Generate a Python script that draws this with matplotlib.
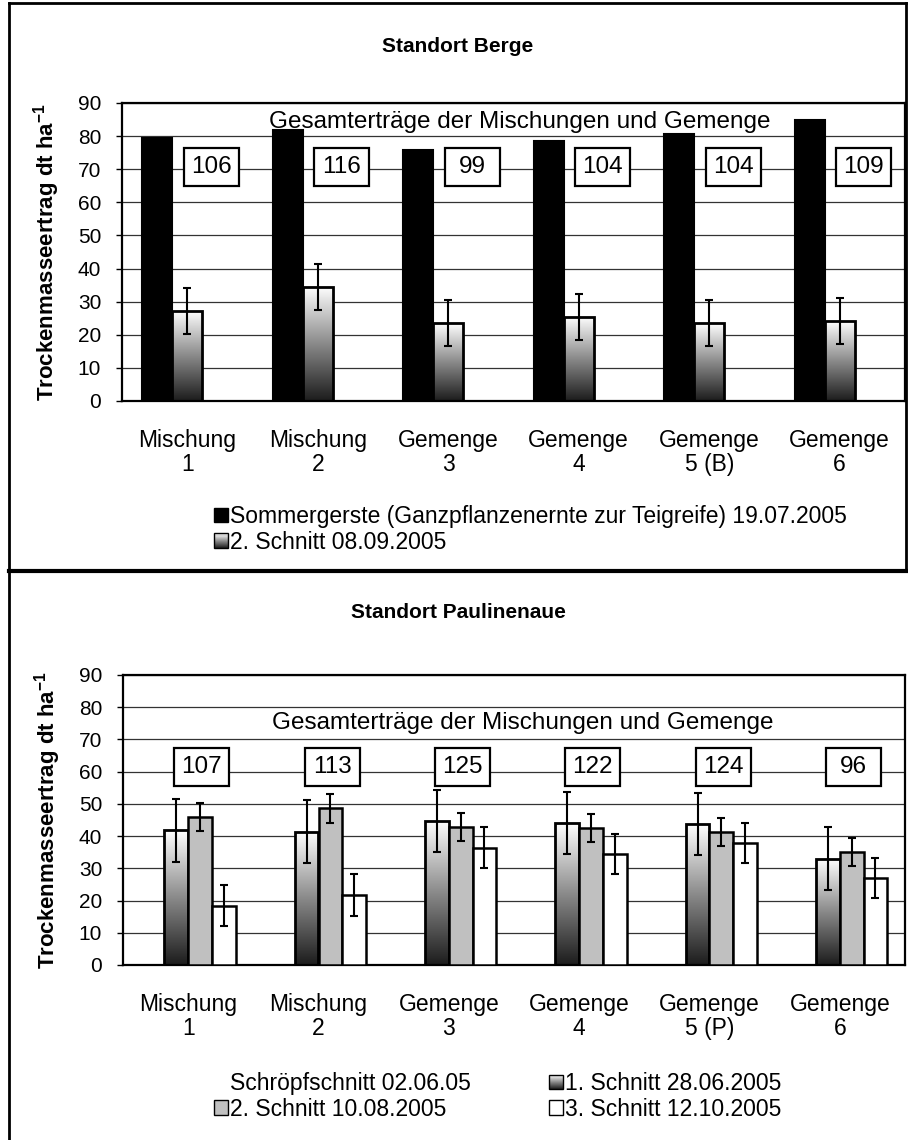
import numpy as np
import matplotlib
matplotlib.use('Agg')
import matplotlib.pyplot as plt
from matplotlib.colors import LinearSegmentedColormap
from matplotlib.patches import Rectangle
from matplotlib.legend_handler import HandlerBase
from matplotlib.lines import Line2D
from matplotlib.transforms import ScaledTranslation

plt.rcParams['font.family'] = ['Liberation Sans', 'DejaVu Sans']
plt.rcParams['font.size'] = 16.5
plt.rcParams['mathtext.fontset'] = 'custom'
plt.rcParams['mathtext.rm'] = 'Liberation Sans'
plt.rcParams['mathtext.bf'] = 'Liberation Sans:bold'

# ---- data: Standort Berge
cats_berge = ['Mischung\n1', 'Mischung\n2', 'Gemenge\n3', 'Gemenge\n4',
              'Gemenge\n5 (B)', 'Gemenge\n6']
gerste = [79.5, 81.9, 75.8, 78.5, 80.6, 85.0]
schnitt2_b = [27.2, 34.5, 23.5, 25.4, 23.5, 24.1]
schnitt2_b_err = [7.0, 7.0, 7.0, 7.0, 7.0, 7.0]
gesamt_b = [106, 116, 99, 104, 104, 109]

# ---- data: Standort Paulinenaue
cats_paul = ['Mischung\n1', 'Mischung\n2', 'Gemenge\n3', 'Gemenge\n4',
             'Gemenge\n5 (P)', 'Gemenge\n6']
schnitt1_p = [41.8, 41.4, 44.8, 44.0, 43.7, 33.0]
schnitt1_p_err = [9.7, 9.7, 9.6, 9.7, 9.7, 9.7]
schnitt2_p = [45.9, 48.7, 42.8, 42.5, 41.3, 35.0]
schnitt2_p_err = [4.4, 4.5, 4.4, 4.4, 4.4, 4.4]
schnitt3_p = [18.4, 21.7, 36.4, 34.5, 38.0, 27.1]
schnitt3_p_err = [6.3, 6.4, 6.3, 6.3, 6.2, 6.2]
gesamt_p = [107, 113, 125, 122, 124, 96]

ylabel = r'Trockenmasseertrag dt ha$^{\mathbf{-1}}$'
gesamt_txt = 'Gesamterträge der Mischungen und Gemenge'

cmap = LinearSegmentedColormap.from_list('grad', ['#1c1c1c', '#8a8a8a', '#ffffff'])
grad = np.linspace(0, 1, 256).reshape(-1, 1)

W, H = 908, 1140
fig = plt.figure(figsize=(W / 100, H / 100), dpi=100)


def grad_bars(ax, x, h, w):
    bars = ax.bar(x, h, w, facecolor='none', edgecolor='black', lw=2, zorder=3)
    for b in bars:
        x0, y0 = b.get_xy()
        im = ax.imshow(grad, extent=[x0, x0 + b.get_width(), y0, y0 + b.get_height()],
                       origin='lower', cmap=cmap, aspect='auto', zorder=2.5)
        im.set_clip_path(b)
    return bars


def setup(ax, cats):
    ax.set_xlim(-0.5, 5.5)
    ax.set_ylim(0, 90)
    ax.set_yticks(np.arange(0, 91, 10))
    ax.set_xticks(range(6))
    ax.set_xticklabels(cats, linespacing=1.05)
    ax.tick_params(axis='x', length=0, pad=20, labelsize=16.5)
    ax.tick_params(axis='y', direction='out', length=4, width=1, pad=11, labelsize=15)
    ax.yaxis.grid(True, color='#333333', lw=0.9)
    ax.set_axisbelow(True)
    for s in ax.spines.values():
        s.set_linewidth(1.6)
    ax.set_ylabel(ylabel, fontweight='bold', fontsize=16)
    ax.yaxis.set_label_coords(-0.077, 0.5)


def boxes(ax, xs, ys, vals):
    # fixed size label boxes (55 x 38 px) centred on the data point
    for x, v in zip(xs, vals):
        tr = fig.dpi_scale_trans + ScaledTranslation(x, ys, ax.transData)
        ax.add_patch(Rectangle((-0.275, -0.19), 0.55, 0.38, transform=tr,
                               fc='white', ec='black', lw=1.6, zorder=5))
        ax.text(x, ys, str(v), ha='center', va='center', zorder=6, fontsize=17.5)


class GradHandler(HandlerBase):
    def create_artists(self, legend, orig_handle, xdescent, ydescent, width, height, fontsize, trans):
        arts = []
        n = 14
        for i in range(n):
            arts.append(Rectangle((-xdescent, -ydescent + height * i / n), width, height / n,
                                  fc=cmap((i + 0.5) / n), ec='none', transform=trans))
        arts.append(Rectangle((-xdescent, -ydescent), width, height, fc='none', ec='black',
                              lw=1, transform=trans))
        return arts


# ---------------- top panel
ax1 = fig.add_axes([122 / W, 1 - 401 / H, (905 - 122) / W, (401 - 103) / H])
x = np.arange(6)
w1 = 0.23
ax1.bar(x - w1, gerste, w1, color='black', edgecolor='black', lw=1.5, zorder=3)
grad_bars(ax1, x, schnitt2_b, w1)
ax1.errorbar(x, schnitt2_b, yerr=schnitt2_b_err, fmt='none', ecolor='black',
             elinewidth=1.5, capsize=3, capthick=1.5, zorder=4)
boxes(ax1, x + 0.184, 70.7, gesamt_b)
ax1.text(2.55, 84.4, gesamt_txt, ha='center', va='center', fontsize=17.5, zorder=5)
setup(ax1, cats_berge)

h_black = Rectangle((0, 0), 1, 1, fc='black', ec='black')
h_grad1 = Rectangle((0, 0), 1, 1)
ax1.legend([h_black, h_grad1],
           ['Sommergerste (Ganzpflanzenernte zur Teigreife) 19.07.2005', '2. Schnitt 08.09.2005'],
           handler_map={h_grad1: GradHandler()},
           loc='upper left', bbox_to_anchor=(214 / W, 1 - 505 / H), bbox_transform=fig.transFigure,
           frameon=False, handlelength=0.6, handleheight=0.6, handletextpad=0.1,
           labelspacing=0.12, borderpad=0, borderaxespad=0, fontsize=16.5)

# ---------------- bottom panel
ax2 = fig.add_axes([123 / W, 1 - 965 / H, (905 - 123) / W, (965 - 675) / H])
w2 = 0.182
grad_bars(ax2, x - 0.5 * w2, schnitt1_p, w2)
ax2.bar(x + 0.5 * w2, schnitt2_p, w2, color='#c0c0c0', edgecolor='black', lw=1.8, zorder=3)
ax2.bar(x + 1.5 * w2, schnitt3_p, w2, color='white', edgecolor='black', lw=1.8, zorder=3)
for off, vals, err in [(-0.5, schnitt1_p, schnitt1_p_err), (0.5, schnitt2_p, schnitt2_p_err),
                       (1.5, schnitt3_p, schnitt3_p_err)]:
    ax2.errorbar(x + off * w2, vals, yerr=err, fmt='none', ecolor='black',
                 elinewidth=1.5, capsize=3, capthick=1.5, zorder=4)
boxes(ax2, x + 0.105, 61.6, gesamt_p)
ax2.text(2.57, 75.2, gesamt_txt, ha='center', va='center', fontsize=17.5, zorder=5)
setup(ax2, cats_paul)

h_none = Rectangle((0, 0), 1, 1, fc='none', ec='none')
h_grad2 = Rectangle((0, 0), 1, 1)
h_gray = Rectangle((0, 0), 1, 1, fc='#c0c0c0', ec='black', lw=1)
h_white = Rectangle((0, 0), 1, 1, fc='white', ec='black', lw=1)
ax2.legend([h_none, h_gray, h_grad2, h_white],
           ['Schröpfschnitt 02.06.05', '2. Schnitt 10.08.2005',
            '1. Schnitt 28.06.2005', '3. Schnitt 12.10.2005'],
           handler_map={h_grad2: GradHandler()}, ncol=2,
           loc='upper left', bbox_to_anchor=(214 / W, 1 - 1072 / H), bbox_transform=fig.transFigure,
           frameon=False, handlelength=0.6, handleheight=0.6, handletextpad=0.1,
           labelspacing=0.12, columnspacing=3.4, borderpad=0, borderaxespad=0, fontsize=16.5)

# ---------------- titles and frame
fig.text(458 / W, 1 - 46 / H, 'Standort Berge', ha='center', va='center',
         fontweight='bold', fontsize=15)
fig.text(458 / W, 1 - 612 / H, 'Standort Paulinenaue', ha='center', va='center',
         fontweight='bold', fontsize=15)

fig.add_artist(Line2D([9 / W, 9 / W], [0, 1 - 3 / H], color='black', lw=2, transform=fig.transFigure))
fig.add_artist(Line2D([9 / W, 906 / W], [1 - 3 / H, 1 - 3 / H], color='black', lw=2, transform=fig.transFigure))
fig.add_artist(Line2D([906 / W, 906 / W], [1 - 3 / H, 1 - 571 / H], color='black', lw=2, transform=fig.transFigure))
fig.add_artist(Line2D([9 / W, 1], [1 - 571 / H, 1 - 571 / H], color='black', lw=3, transform=fig.transFigure))

fig.savefig('out.png', dpi=100)
